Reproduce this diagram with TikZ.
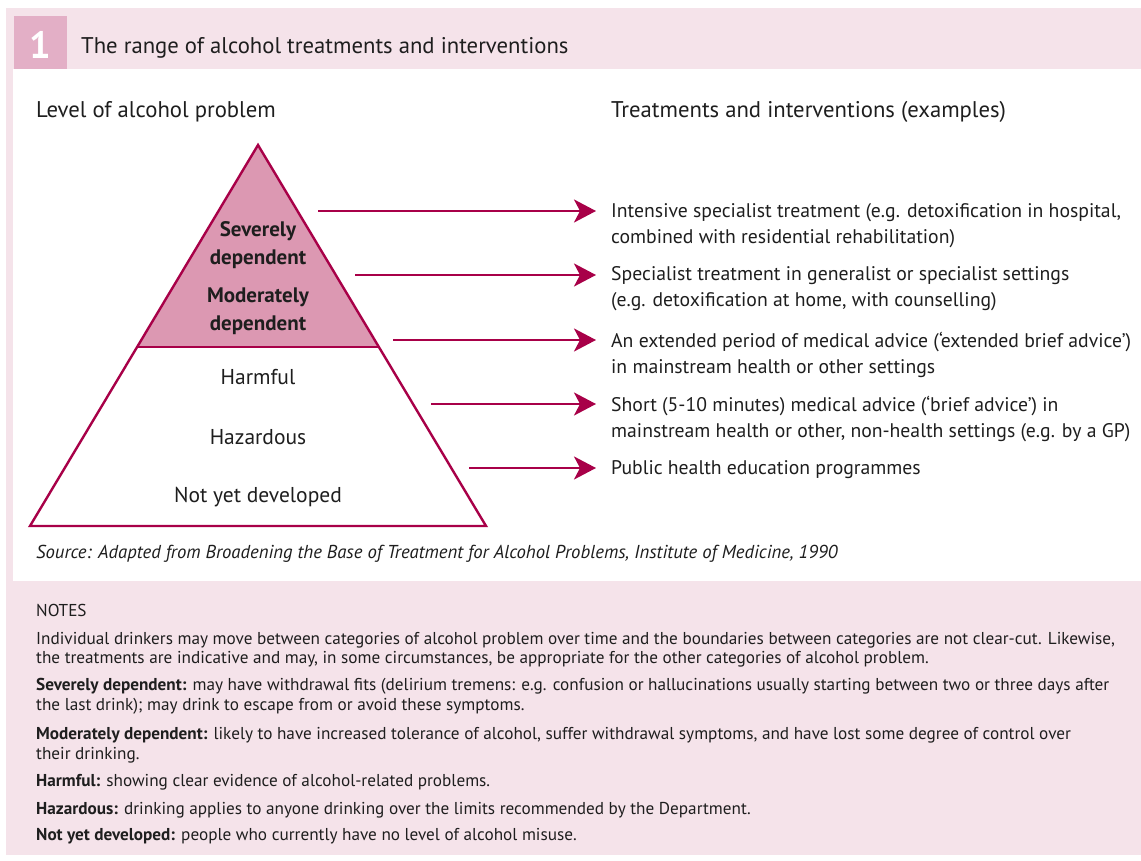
\documentclass[tikz,border=0pt]{standalone}
\usepackage{fontspec}
\setmainfont{PT Sans}
\usepackage{tikz}
\usetikzlibrary{arrows.meta}
\definecolor{panelpink}{RGB}{245,227,234}
\definecolor{boxpink}{RGB}{227,175,198}
\definecolor{levelpink}{RGB}{220,152,178}
\definecolor{wine}{RGB}{168,0,72}
\definecolor{inkgray}{RGB}{30,30,30}

\begin{document}
\begin{tikzpicture}[x=1pt, y=-1pt,
    arr/.style={wine, line width=2.4pt, -{Stealth[length=22pt, width=23pt, inset=6pt]}},
    level/.style={font=\fontsize{21.5}{28}\selectfont, align=center, text=inkgray},
    treat/.style={anchor=north west, inner sep=0pt, align=left, text=inkgray,
        font=\fontsize{19.7}{26}\selectfont},
    heading/.style={anchor=west, inner sep=0pt, text=inkgray, font=\fontsize{22.7}{26}\selectfont}]
    \useasboundingbox (0,0) rectangle (1141,861);

    % Cadre et bandeau
    \fill[panelpink] (6,8) rectangle (1141,855);
    \fill[white] (13,69) rectangle (1141,581);
    \fill[boxpink] (14,16) rectangle (67,69);
    \node[text=white, font=\fontsize{38}{38}\selectfont\bfseries] (num) at (40.5,45) {1};
    \node[heading] (title) at (81,48) {The range of alcohol treatments and interventions};

    % Titres des colonnes
    \node[heading] (lefthead) at (36,112) {Level of alcohol problem};
    \node[heading] (righthead) at (611,112) {Treatments and interventions (examples)};

    % Pyramide
    \coordinate (apex) at (258,145);
    \coordinate (bl) at (30,526);
    \coordinate (br) at (486,526);
    \coordinate (dl) at (137.1,347);
    \coordinate (dr) at (378.9,347);
    \fill[levelpink] (apex) -- (dl) -- (dr) -- cycle;
    \draw[wine, line width=2.4pt, line join=miter] (apex) -- (bl) -- (br) -- cycle;
    \draw[wine, line width=2.4pt] (dl) -- (dr);

    \node[level, font=\fontsize{21}{28}\selectfont\bfseries] (severe) at (258,245) {Severely\\dependent};
    \node[level, font=\fontsize{21}{28}\selectfont\bfseries] (moderate) at (258,311) {Moderately\\dependent};
    \node[level] (harmful) at (258,377) {Harmful};
    \node[level] (hazardous) at (258,437) {Hazardous};
    \node[level] (notyet) at (258,497) {Not yet developed};

    % Traitements
    \node[treat] (t1) at (611,203) {Intensive specialist treatment (e.g. detoxification in hospital,\\combined with residential rehabilitation)};
    \node[treat] (t2) at (611,266) {Specialist treatment in generalist or specialist settings\\(e.g. detoxification at home, with counselling)};
    \node[treat] (t3) at (611,332) {An extended period of medical advice (‘extended brief advice’)\\in mainstream health or other settings};
    \node[treat] (t4) at (611,396) {Short (5-10 minutes) medical advice (‘brief advice’) in\\mainstream health or other, non-health settings (e.g. by a GP)};
    \node[treat] (t5) at (611,460) {Public health education programmes};

    % Flèches
    \coordinate (s1) at (318,211);
    \coordinate (s2) at (355,275);
    \coordinate (s3) at (393,340);
    \coordinate (s4) at (431,404);
    \coordinate (s5) at (469,468);
    \foreach \i in {1,...,5}
        \draw[arr] (s\i) -- ([xshift=-15pt]s\i -| t\i.west);

    % Source
    \node[heading, font=\fontsize{18.7}{22}\selectfont\itshape] (source) at (36,554) {Source: Adapted from Broadening the Base of Treatment for Alcohol Problems, Institute of Medicine, 1990};

    % Notes
    \node[anchor=north west, inner sep=0pt, align=left, text=inkgray, font=\fontsize{17.2}{19.6}\selectfont] (notes) at (36,604) {%
        NOTES\\[8pt]
        Individual drinkers may move between categories of alcohol problem over time and the boundaries between categories are not clear-cut. Likewise,\\
        the treatments are indicative and may, in some circumstances, be appropriate for the other categories of alcohol problem.\\[7.5pt]
        \textbf{Severely dependent:} may have withdrawal fits (delirium tremens: e.g. confusion or hallucinations usually starting between two or three days after\\
        the last drink); may drink to escape from or avoid these symptoms.\\[9.5pt]
        \textbf{Moderately dependent:} likely to have increased tolerance of alcohol, suffer withdrawal symptoms, and have lost some degree of control over\\
        their drinking.\\[7.5pt]
        \textbf{Harmful:} showing clear evidence of alcohol-related problems.\\[8.5pt]
        \textbf{Hazardous:} drinking applies to anyone drinking over the limits recommended by the Department.\\[7pt]
        \textbf{Not yet developed:} people who currently have no level of alcohol misuse.};
\end{tikzpicture}
\end{document}
